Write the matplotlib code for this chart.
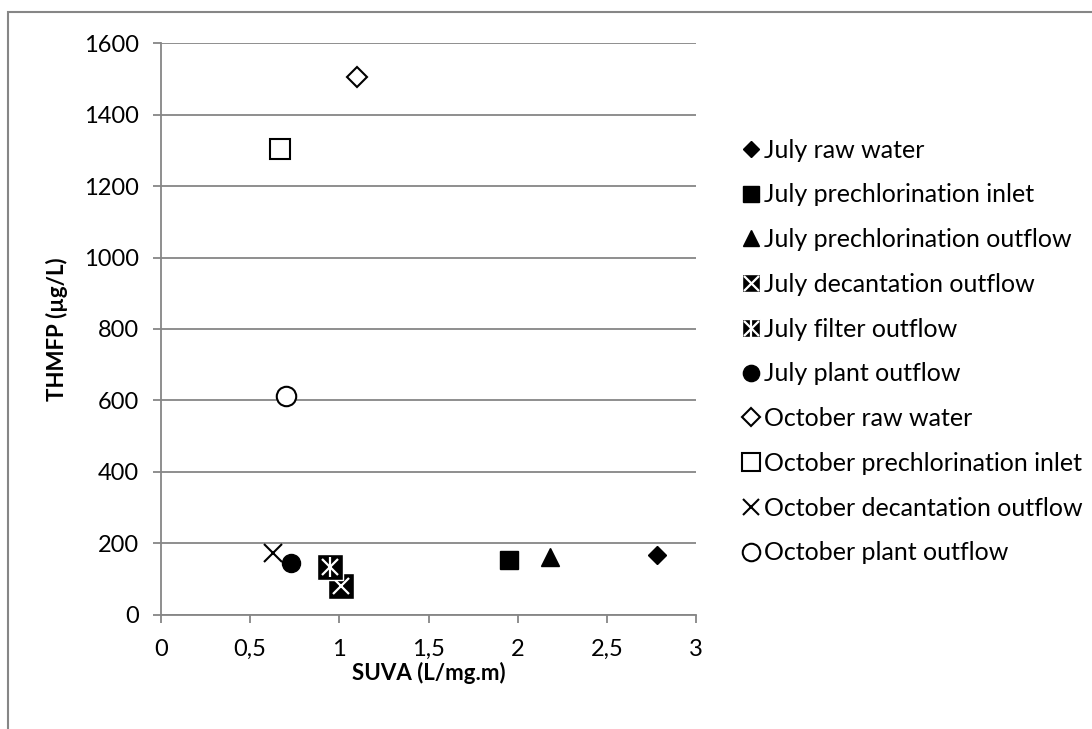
import matplotlib
matplotlib.use('Agg')
import matplotlib.pyplot as plt
from matplotlib.lines import Line2D
from matplotlib.patches import Rectangle
from matplotlib.legend_handler import HandlerTuple

plt.rcParams['font.family'] = ['Lato', 'DejaVu Sans']

# SUVA (L/mg.m) and THMFP (ug/L) per sample
labels = ['July raw water', 'July prechlorination inlet', 'July prechlorination outflow',
          'July decantation outflow', 'July filter outflow', 'July plant outflow',
          'October raw water', 'October prechlorination inlet',
          'October decantation outflow', 'October plant outflow']
suva = [2.78, 1.95, 2.18, 1.01, 0.95, 0.73, 1.10, 0.67, 0.63, 0.70]
thmfp = [167, 154, 163, 81, 135, 145, 1506, 1303, 172, 612]

xticks = [0, 0.5, 1, 1.5, 2, 2.5, 3]
xticklabels = ['0', '0,5', '1', '1,5', '2', '2,5', '3']
yticks = [0, 200, 400, 600, 800, 1000, 1200, 1400, 1600]

grey = '#868686'

fig = plt.figure(figsize=(10.92, 7.29), dpi=100)
ax = fig.add_axes([0.1474, 0.1564, 0.49, 0.7846])

# marker look per series: list of (marker, size, face, edge, mew)
styles = [
    [('D', 9.2, 'black', 'black', 1)],
    [('s', 13.5, 'black', 'black', 1)],
    [('^', 13, 'black', 'black', 1)],
    [('s', 18.5, 'black', 'white', 1), ('x', 12, 'none', 'white', 1.6)],
    [('s', 18.5, 'black', 'white', 1), ('x', 12, 'none', 'white', 1.6), ('|', 14, 'none', 'white', 1.6)],
    [('o', 13, 'black', 'black', 1)],
    [('D', 10, 'white', 'black', 1.5)],
    [('s', 14, 'white', 'black', 1.5)],
    [('x', 13, 'none', 'black', 1.5)],
    [('o', 14, 'white', 'black', 1.5)],
]

handles = []
for i in range(len(labels)):
    parts = []
    for m, ms, fc, ec, mew in styles[i]:
        ax.plot([suva[i]], [thmfp[i]], linestyle='none', marker=m, markersize=ms,
                markerfacecolor=fc, markeredgecolor=ec, markeredgewidth=mew, zorder=3)
        k = 0.7 if ms > 15 else 0.9
        parts.append(Line2D([], [], linestyle='none', marker=m, markersize=ms * k,
                            markerfacecolor=fc, markeredgecolor=ec, markeredgewidth=mew))
    handles.append(tuple(parts))

ax.set_xlim(0, 3)
ax.set_ylim(0, 1600)
ax.set_xticks(xticks)
ax.set_xticklabels(xticklabels)
ax.set_yticks(yticks)
ax.yaxis.grid(True, color=grey, linewidth=1.3)
ax.set_axisbelow(True)
for s in ['top', 'right']:
    ax.spines[s].set_visible(False)
for s in ['left', 'bottom']:
    ax.spines[s].set_color(grey)
    ax.spines[s].set_linewidth(1.3)
ax.tick_params(axis='both', direction='out', length=6, width=1.3, color=grey,
               labelsize=17)
ax.tick_params(axis='x', pad=11)
ax.tick_params(axis='y', pad=10)

ax.set_xlabel('SUVA (L/mg.m)', fontsize=16, fontweight='bold', labelpad=2)
ax.set_ylabel('THMFP (µg/L)', fontsize=16, fontweight='bold', labelpad=11)

fig.legend(handles, labels, handler_map={tuple: HandlerTuple(ndivide=1)},
           loc='center left', bbox_to_anchor=(0.668, 0.518), frameon=False,
           fontsize=18, handlelength=0.9, handletextpad=0.1, labelspacing=0.87,
           borderaxespad=0)

# outer chart border (top and left edges visible)
fig.add_artist(Rectangle((8 / 1092, -0.2), 1.5, 1.2 - 12 / 729, transform=fig.transFigure,
                         fill=False, edgecolor=grey, linewidth=1.5))

fig.savefig('out.png', dpi=100)
